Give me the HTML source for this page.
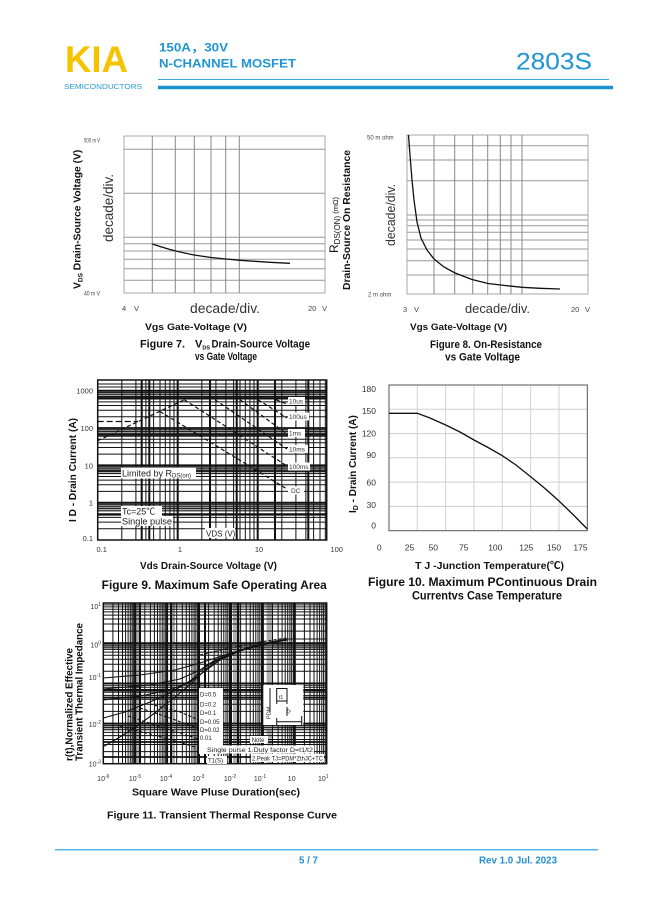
<!DOCTYPE html>
<html><head><meta charset="utf-8"><title>2803S</title>
<style>
html,body{margin:0;padding:0;background:#fff;width:649px;height:917px;overflow:hidden}
svg{display:block}
text{font-family:"Liberation Sans","Noto Sans CJK SC",sans-serif}
</style></head><body>
<svg xmlns="http://www.w3.org/2000/svg" width="649" height="917" viewBox="0 0 649 917">
<rect width="649" height="917" fill="#fff"/>

<!-- HEADER -->
<text x="65" y="72" font-size="37" font-weight="bold" fill="#f5c300" textLength="63" lengthAdjust="spacingAndGlyphs">KIA</text>
<text x="64" y="89" font-size="7" fill="#2a9ad6" textLength="78" lengthAdjust="spacingAndGlyphs">SEMICONDUCTORS</text>
<text x="159" y="51.7" font-size="11.7" font-weight="bold" fill="#1f95d3" textLength="69" lengthAdjust="spacingAndGlyphs">150A，30V</text>
<text x="159" y="67.7" font-size="11.7" font-weight="bold" fill="#1f95d3" textLength="137" lengthAdjust="spacingAndGlyphs">N-CHANNEL MOSFET</text>
<text x="516" y="69.5" font-size="24.5" fill="#1f95d3" textLength="76" lengthAdjust="spacingAndGlyphs">2803S</text>
<line x1="158" y1="79.5" x2="609" y2="79.5" stroke="#3aa5dc" stroke-width="1"/>
<line x1="158" y1="87.5" x2="613" y2="87.5" stroke="#1a93d0" stroke-width="3.5"/>

<!-- FIGURE 7 -->
<g fill="none" stroke="#999" stroke-width="1">
<rect x="124" y="136" width="201" height="157" stroke="#aaa"/>
<path d="M124 149.3H325M124 193.3H325M124 237.3H325M124 243.7H325M124 251H325M124 259.3H325M124 268.7H325M124 280.3H325"/>
<path stroke="#888" d="M152.3 136V293M175.3 136V293M194.3 136V293M211 136V293M225.7 136V293M239.3 136V293"/>
</g>
<polyline fill="none" stroke="#111" stroke-width="1.3" points="152.3,244 160,246.5 170,249.5 180,252 194,255 211,257.5 226,259 240,260.3 255,261.3 270,262.3 290,263.3"/>
<g font-size="6.5" fill="#444">
<text x="84" y="142.5" textLength="16" lengthAdjust="spacingAndGlyphs">500 m V</text>
<text x="84" y="295.5" textLength="16" lengthAdjust="spacingAndGlyphs">40 m V</text>
</g>
<g font-size="7.5" fill="#444">
<text x="122" y="311">4</text><text x="134" y="311">V</text>
<text x="308" y="311">20</text><text x="322" y="311">V</text>
</g>
<text x="190" y="313" font-size="13.5" fill="#333" textLength="70" lengthAdjust="spacingAndGlyphs">decade/div.</text>
<text transform="translate(113,208) rotate(-90)" text-anchor="middle" font-size="13.5" fill="#333">decade/div.</text>
<text transform="translate(80.5,289) rotate(-90)" font-weight="bold" font-size="10.3" fill="#111">V<tspan font-size="6.5" dy="2">DS</tspan><tspan dy="-2"> Drain-Source Voltage (V)</tspan></text>
<text x="145" y="330" font-size="9.5" font-weight="bold" fill="#111" textLength="102" lengthAdjust="spacingAndGlyphs">Vgs Gate-Voltage (V)</text>
<text x="140" y="347.5" font-size="11" font-weight="bold" fill="#111" textLength="45" lengthAdjust="spacingAndGlyphs">Figure 7.</text>
<text x="195" y="347.5" font-size="11" font-weight="bold" fill="#111">V<tspan font-size="5.5" dy="2">DS</tspan></text>
<text x="211.5" y="347.5" font-size="11" font-weight="bold" fill="#111" textLength="98.5" lengthAdjust="spacingAndGlyphs">Drain-Source Voltage</text>
<text x="195" y="360" font-size="11" font-weight="bold" fill="#111" textLength="62" lengthAdjust="spacingAndGlyphs">vs Gate Voltage</text>

<!-- FIGURE 8 -->
<g fill="none" stroke="#999" stroke-width="1">
<rect x="407" y="135" width="181" height="159" stroke="#aaa"/>
<path d="M407 145.7H588M407 160H588M407 180.7H588M407 215H588M407 220H588M407 225.7H588M407 232.3H588M407 240H588M407 249H588M407 260.7H588M407 275H588"/>
<path stroke="#888" d="M434 135V294M454.7 135V294M472.7 135V294M487.7 135V294M500.3 135V294M511 135V294M522 135V294"/>
</g>
<polyline fill="none" stroke="#111" stroke-width="1.3" points="408.5,135 410,155 412,180 414,200 417,222 421,238 427,250 434,259 444,267 455,273 472,279.5 488,283.5 505,285.5 522,287.3 540,288.3 560,289"/>
<g font-size="6" fill="#444">
<text x="367" y="139.5">50 m ohm</text>
<text x="368" y="296.5">2 m ohm</text>
</g>
<g font-size="7.5" fill="#444">
<text x="403" y="312">3</text><text x="414" y="312">V</text>
<text x="571" y="312">20</text><text x="585" y="312">V</text>
</g>
<text x="465" y="313" font-size="13" fill="#333" textLength="65" lengthAdjust="spacingAndGlyphs">decade/div.</text>
<text transform="translate(395,215) rotate(-90)" text-anchor="middle" font-size="12.5" fill="#333" textLength="62" lengthAdjust="spacingAndGlyphs">decade/div.</text>
<text transform="translate(338,253) rotate(-90)" fill="#111" font-size="12">R<tspan font-size="8" dy="2">DS(ON)</tspan><tspan font-size="7.5" dy="-2"> (mΩ)</tspan></text>
<text transform="translate(350,220) rotate(-90)" text-anchor="middle" font-size="10.4" font-weight="bold" fill="#111" textLength="140" lengthAdjust="spacingAndGlyphs">Drain-Source On Resistance</text>
<text x="410" y="330" font-size="9.5" font-weight="bold" fill="#111" textLength="97" lengthAdjust="spacingAndGlyphs">Vgs Gate-Voltage (V)</text>
<text x="430" y="348" font-size="11" font-weight="bold" fill="#111" textLength="112" lengthAdjust="spacingAndGlyphs">Figure 8. On-Resistance</text>
<text x="445" y="360.5" font-size="11" font-weight="bold" fill="#111" textLength="75" lengthAdjust="spacingAndGlyphs">vs Gate Voltage</text>

<!-- FIGURE 9 -->
<g>
<rect x="97.7" y="380" width="229" height="160" fill="#fff"/>
<g fill="#b0b0b0">
<rect x="97.7" y="390.7" width="229" height="8.3"/>
<rect x="97.7" y="428" width="229" height="8.3"/>
<rect x="97.7" y="465.3" width="229" height="8.3"/>
<rect x="97.7" y="502.6" width="229" height="8.3"/>
</g>
<path fill="none" stroke="#111" stroke-width="1" d="M97.7 384H326.7M97.7 387H326.7M97.7 392.4H326.7M97.7 394.3H326.7M97.7 396.5H326.7M97.7 399H326.7M97.7 401.9H326.7M97.7 405.5H326.7M97.7 410.2H326.7M97.7 416.8H326.7M97.7 429.7H326.7M97.7 431.6H326.7M97.7 433.8H326.7M97.7 436.3H326.7M97.7 439.2H326.7M97.7 442.8H326.7M97.7 447.5H326.7M97.7 454.1H326.7M97.7 467H326.7M97.7 468.9H326.7M97.7 471.1H326.7M97.7 473.6H326.7M97.7 476.5H326.7M97.7 480.1H326.7M97.7 484.8H326.7M97.7 491.4H326.7M97.7 504.3H326.7M97.7 506.2H326.7M97.7 508.4H326.7M97.7 510.9H326.7M97.7 513.8H326.7M97.7 517.4H326.7M97.7 522.1H326.7M97.7 528.7H326.7"/>
<path fill="none" stroke="#111" stroke-width="1.8" d="M97.7 390.7H326.7M97.7 428H326.7M97.7 465.3H326.7M97.7 502.6H326.7M97.7 398H326.7M97.7 434.7H326.7M97.7 471H326.7M97.7 514.7H326.7"/>
<path fill="none" stroke="#111" stroke-width="1" d="M121.8 380V540M135.9 380V540M145.9 380V540M153.6 380V540M160 380V540M165.3 380V540M169.9 380V540M174 380V540M201.8 380V540M215.9 380V540M225.9 380V540M233.6 380V540M240 380V540M245.3 380V540M249.9 380V540M254 380V540M281.8 380V540M295.9 380V540M305.9 380V540M313.6 380V540M320 380V540M325.3 380V540"/>
<path fill="none" stroke="#111" stroke-width="2" d="M177.7 380V540M257.7 380V540M141.7 380V540M149.3 380V540M210 380V540M236.7 380V540M275 380V540M308.3 380V540"/>
<rect x="97.7" y="380" width="229" height="160" fill="none" stroke="#111" stroke-width="1.5"/>
<g fill="none" stroke="#111" stroke-width="1.2" stroke-dasharray="4,2.5">
<line x1="97.7" y1="440.7" x2="184.3" y2="399.7"/>
<line x1="97.7" y1="421.5" x2="138" y2="421.5" stroke-dasharray="6,3"/>
<line x1="160" y1="411.5" x2="287" y2="489"/>
<line x1="184.3" y1="399.7" x2="287" y2="466"/>
<line x1="215" y1="399.7" x2="287" y2="449"/>
<line x1="240" y1="399.7" x2="287" y2="434"/>
<line x1="258" y1="399.7" x2="287" y2="418"/>
<line x1="276" y1="399.7" x2="287" y2="404"/>
</g>
<g fill="#fff">
<rect x="288" y="397" width="17" height="8"/>
<rect x="288" y="412.5" width="21" height="8"/>
<rect x="288" y="429" width="17" height="8"/>
<rect x="288" y="445" width="20" height="8"/>
<rect x="288" y="462.5" width="22" height="8"/>
<rect x="288" y="486.5" width="16" height="8"/>
<rect x="121" y="467.5" width="75" height="11"/>
<rect x="121" y="506" width="41" height="10"/>
<rect x="121" y="516" width="52" height="10"/>
<rect x="205" y="528" width="30" height="10"/>
</g>
<g font-size="6.5" fill="#333">
<text x="289" y="403.3">10us</text>
<text x="289" y="418.8">100us</text>
<text x="289" y="435.3">1ms</text>
<text x="289" y="451.3">10ms</text>
<text x="289" y="468.8">100ms</text>
<text x="291" y="492.8">DC</text>
</g>
<g font-size="9" fill="#222">
<text x="122" y="476.5">Limited by R<tspan font-size="6" dy="1">DS(on)</tspan></text>
<text x="122" y="514.5">Tc=25℃</text>
<text x="122" y="524.5" textLength="50" lengthAdjust="spacingAndGlyphs">Single pulse</text>
<text x="206" y="536.5" font-size="8">VDS (V)</text>
</g>
</g>
<g font-size="7.5" fill="#333" text-anchor="end">
<text x="93" y="393.4">1000</text>
<text x="93" y="431">100</text>
<text x="93" y="468.4">10</text>
<text x="93" y="505.4">1</text>
<text x="93" y="541">0.1</text>
</g>
<g font-size="7.5" fill="#333" text-anchor="middle">
<text x="101.7" y="552">0.1</text>
<text x="180" y="552">1</text>
<text x="259" y="552">10</text>
<text x="336.7" y="552">100</text>
</g>
<text transform="translate(76,470) rotate(-90)" text-anchor="middle" font-size="10" font-weight="bold" fill="#111" textLength="104" lengthAdjust="spacingAndGlyphs">I D - Drain Current (A)</text>
<text x="140" y="569" font-size="10" font-weight="bold" fill="#111" textLength="137" lengthAdjust="spacingAndGlyphs">Vds Drain-Source Voltage (V)</text>
<text x="101.7" y="589" font-size="11.5" font-weight="bold" fill="#111" textLength="225" lengthAdjust="spacingAndGlyphs">Figure 9. Maximum Safe Operating Area</text>

<!-- FIGURE 10 -->
<g fill="none" stroke="#d0d0d0" stroke-width="1">
<path d="M389 409.3H587.3M389 433.6H587.3M389 457.8H587.3M389 482.1H587.3M389 506.4H587.3"/>
<path d="M417.3 385V530.7M445.7 385V530.7M474 385V530.7M502.3 385V530.7M530.7 385V530.7M559 385V530.7"/>
</g>
<rect x="389" y="385" width="198.3" height="145.7" fill="none" stroke="#555" stroke-width="1"/>
<polyline fill="none" stroke="#111" stroke-width="1.3" points="389,413.3 417.3,413.3 430,418 445.7,425 460,432 474,440 488,447.5 502.3,455.7 516,465 530.7,476.7 545,488.5 559,501 573,514.5 587.3,529"/>
<g font-family="Liberation Serif,serif" font-size="8.5" fill="#333" text-anchor="end">
<text x="376" y="392">180</text>
<text x="376" y="414">150</text>
<text x="376" y="436.3">120</text>
<text x="376" y="458">90</text>
<text x="376" y="485.3">60</text>
<text x="376" y="508">30</text>
<text x="376" y="528.7">0</text>
</g>
<g font-family="Liberation Serif,serif" font-size="8.5" fill="#333" text-anchor="middle">
<text x="379.3" y="550.7">0</text>
<text x="409.5" y="550.7">25</text>
<text x="433.3" y="550.7">50</text>
<text x="463.7" y="550.7">75</text>
<text x="495.3" y="550.7">100</text>
<text x="526.3" y="550.7">125</text>
<text x="554" y="550.7">150</text>
<text x="580.5" y="550.7">175</text>
</g>
<text transform="translate(356,513) rotate(-90)" font-size="10" font-weight="bold" fill="#111">I<tspan font-size="7" dy="2">D</tspan><tspan dy="-2"> - Drain Current (A)</tspan></text>
<text x="415" y="569" font-size="10" font-weight="bold" fill="#111" textLength="149" lengthAdjust="spacingAndGlyphs">T J -Junction Temperature(℃)</text>
<text x="368" y="586" font-size="11.5" font-weight="bold" fill="#111" textLength="229" lengthAdjust="spacingAndGlyphs">Figure 10. Maximum   PContinuous Drain</text>
<text x="412" y="599.5" font-size="11.5" font-weight="bold" fill="#111" textLength="150" lengthAdjust="spacingAndGlyphs">Currentvs Case Temperature</text>

<!-- FIGURE 11 -->
<g>
<rect x="103.3" y="603" width="223.4" height="160.7" fill="#fff"/>
<g fill="#b0b0b0">
<rect x="103.3" y="643.2" width="223.4" height="6"/>
<rect x="103.3" y="723.5" width="223.4" height="6"/>
<rect x="131.7" y="603" width="8" height="160.7"/>
<rect x="170" y="603" width="5" height="160.7"/>
<rect x="233" y="603" width="7" height="160.7"/>
<rect x="266.7" y="603" width="6" height="160.7"/>
</g>
<path fill="none" stroke="#111" stroke-width="1" d="M103.3 604.9H326.7M103.3 606.9H326.7M103.3 609.2H326.7M103.3 611.9H326.7M103.3 615.1H326.7M103.3 619H326.7M103.3 624H326.7M103.3 631.1H326.7M103.3 645.1H326.7M103.3 647.1H326.7M103.3 649.4H326.7M103.3 652.1H326.7M103.3 655.3H326.7M103.3 659.2H326.7M103.3 664.2H326.7M103.3 671.3H326.7M103.3 685.2H326.7M103.3 687.2H326.7M103.3 689.5H326.7M103.3 692.2H326.7M103.3 695.4H326.7M103.3 699.3H326.7M103.3 704.3H326.7M103.3 711.4H326.7M103.3 725.4H326.7M103.3 727.4H326.7M103.3 729.7H326.7M103.3 732.4H326.7M103.3 735.6H326.7M103.3 739.5H326.7M103.3 744.5H326.7M103.3 751.6H326.7"/>
<path fill="none" stroke="#111" stroke-width="1.8" d="M103.3 643.2H326.7M103.3 683.4H326.7M103.3 723.5H326.7M103.3 690.5H326.7M103.3 697.5H326.7M103.3 742H326.7M103.3 757H326.7"/>
<path fill="none" stroke="#111" stroke-width="1" d="M112.9 603V763.7M118.5 603V763.7M122.5 603V763.7M125.6 603V763.7M128.1 603V763.7M130.3 603V763.7M132.1 603V763.7M133.8 603V763.7M144.8 603V763.7M150.4 603V763.7M154.4 603V763.7M157.5 603V763.7M160 603V763.7M162.2 603V763.7M164 603V763.7M165.7 603V763.7M176.7 603V763.7M182.3 603V763.7M186.3 603V763.7M189.4 603V763.7M191.9 603V763.7M194.1 603V763.7M195.9 603V763.7M197.6 603V763.7M208.6 603V763.7M214.2 603V763.7M218.2 603V763.7M221.3 603V763.7M223.8 603V763.7M226 603V763.7M227.8 603V763.7M229.5 603V763.7M240.6 603V763.7M246.2 603V763.7M250.2 603V763.7M253.3 603V763.7M255.8 603V763.7M258 603V763.7M259.8 603V763.7M261.5 603V763.7M272.5 603V763.7M278.1 603V763.7M282.1 603V763.7M285.2 603V763.7M287.7 603V763.7M289.9 603V763.7M291.7 603V763.7M293.4 603V763.7M304.4 603V763.7M310 603V763.7M314 603V763.7M317.1 603V763.7M319.6 603V763.7M321.8 603V763.7M323.6 603V763.7M325.3 603V763.7"/>
<path fill="none" stroke="#111" stroke-width="2" d="M135.2 603V763.7M167.1 603V763.7M199 603V763.7M231 603V763.7M262.9 603V763.7M294.8 603V763.7M140 603V763.7M171 603V763.7M205 603V763.7M238 603V763.7"/>
<rect x="103.3" y="603" width="223.4" height="160.7" fill="none" stroke="#111" stroke-width="1.5"/>
<g fill="none" stroke="#111" stroke-width="1.1">
<polyline points="103.3,746.7 120,737 140,724 160,709 180,693 195,680 205,670 215,662 230,654 250,647 270,642 287,639 326.7,639"/>
<polyline points="103.3,718 125,712 150,702 170,693 190,681 200,672 210,664 225,656 245,649 265,644 287,640"/>
<polyline points="103.3,700 140,696 170,690 190,682 205,671 220,660 240,651 265,644"/>
<polyline points="103.3,689 150,685 180,679 200,670 215,660 235,652"/>
<polyline points="103.3,678 140,675 175,670 200,663 225,655 250,647 287,640"/>
</g>
<g fill="none" stroke="#111" stroke-width="1.1" stroke-dasharray="3,2">
<polyline points="140,708 170,718 205,731"/>
<polyline points="128,716 170,730 205,741"/>
<polyline points="150,704 180,712 206,723"/>
<polyline points="120,726 165,738 205,750"/>
<line x1="199" y1="664" x2="200" y2="698"/>
<polyline points="200,655 230,648 260,642 287,638"/>
</g>
<rect x="199" y="688" width="24" height="66" fill="#fff"/>
<g font-size="6" fill="#222">
<text x="200" y="696.7">D=0.5</text>
<text x="200" y="706.3">D=0.2</text>
<text x="200" y="715">D=0.1</text>
<text x="200" y="724">D=0.05</text>
<text x="200" y="732">D=0.02</text>
<text x="200" y="740">0.01</text>
</g>
<rect x="263.3" y="685" width="40" height="40" fill="#fff"/>
<g fill="none" stroke="#111" stroke-width="1">
<path d="M276.7 704V688.5H287V704"/>
<path d="M270 688V712"/>
<path d="M276.7 721.7H301.7M287 707V716M276.7 701H287"/>
<path d="M276.7 718V725M301.7 716V725"/>
</g>
<text transform="translate(270.5,719) rotate(-90)" font-size="5.5" fill="#222">PDM</text>
<text x="279" y="699" font-size="5" fill="#222">t1</text>
<text transform="translate(289,714) rotate(-60)" font-size="5" fill="#222">t2</text>
<g fill="#fff">
<rect x="250" y="736" width="18" height="7"/>
<rect x="206" y="745.5" width="108" height="8"/>
<rect x="251" y="754" width="73" height="8"/>
<rect x="207" y="756" width="20" height="8"/>
</g>
<g font-size="6" fill="#222">
<text x="251.7" y="742">Note</text>
<text x="207" y="752" textLength="106" lengthAdjust="spacingAndGlyphs">Single pulse 1.Duty factor D=t1/t2</text>
<text x="252" y="760.5" textLength="71" lengthAdjust="spacingAndGlyphs">2.Peak TJ=PDM*ZthJC+TC</text>
<text x="208" y="762.5">T1(S)</text>
</g>
</g>
<g font-size="7" fill="#333" text-anchor="end">
<text x="101" y="609">10<tspan font-size="5" dy="-3">1</tspan></text>
<text x="101" y="647.5">10<tspan font-size="5" dy="-3">0</tspan></text>
<text x="101" y="680">10<tspan font-size="5" dy="-3">-1</tspan></text>
<text x="101" y="727">10<tspan font-size="5" dy="-3">-2</tspan></text>
<text x="101" y="766.5">10<tspan font-size="5" dy="-3">-3</tspan></text>
</g>
<g font-size="7" fill="#333" text-anchor="middle">
<text x="103.3" y="781">10<tspan font-size="5" dy="-3">-6</tspan></text>
<text x="135" y="781">10<tspan font-size="5" dy="-3">-5</tspan></text>
<text x="166" y="781">10<tspan font-size="5" dy="-3">-4</tspan></text>
<text x="198.3" y="781">10<tspan font-size="5" dy="-3">-3</tspan></text>
<text x="230" y="781">10<tspan font-size="5" dy="-3">-2</tspan></text>
<text x="260" y="781">10<tspan font-size="5" dy="-3">-1</tspan></text>
<text x="291.7" y="781">10</text>
<text x="323.3" y="781">10<tspan font-size="5" dy="-3">1</tspan></text>
</g>
<text transform="translate(72.5,761) rotate(-90)" font-size="10" font-weight="bold" fill="#111" textLength="113" lengthAdjust="spacingAndGlyphs">r(t),Normalized Effective</text>
<text transform="translate(82.5,761) rotate(-90)" font-size="10" font-weight="bold" fill="#111" textLength="138" lengthAdjust="spacingAndGlyphs">Transient Thermal Impedance</text>
<text x="132" y="795.5" font-size="10.5" font-weight="bold" fill="#111" textLength="168" lengthAdjust="spacingAndGlyphs">Square Wave Pluse Duration(sec)</text>
<text x="107" y="818.5" font-size="10" font-weight="bold" fill="#111" textLength="230" lengthAdjust="spacingAndGlyphs">Figure 11. Transient Thermal Response Curve</text>

<!-- FOOTER -->
<line x1="55" y1="849.7" x2="598" y2="849.7" stroke="#4fb8e6" stroke-width="1.5"/>
<text x="299" y="863.5" font-size="10" font-weight="bold" fill="#1f8fcf" textLength="19" lengthAdjust="spacingAndGlyphs">5 / 7</text>
<text x="479" y="863.5" font-size="10" font-weight="bold" fill="#1f8fcf" textLength="78" lengthAdjust="spacingAndGlyphs">Rev 1.0 Jul. 2023</text>
</svg>
</body></html>
